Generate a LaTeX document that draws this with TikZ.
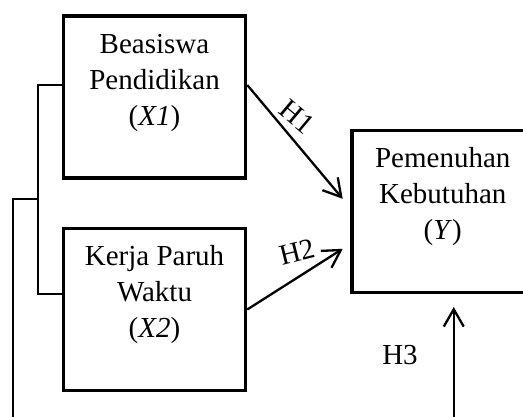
\documentclass[tikz,border=0pt]{standalone}
\usepackage{fontspec}
\setmainfont{Liberation Serif}
\usetikzlibrary{arrows.meta}
\newcommand{\isikotak}[1]{\parbox[c][162pt][t]{182pt}{\centering\rule{0pt}{37pt}#1}}

\begin{document}
\begin{tikzpicture}[x=1pt,y=-1pt]
% style des noeuds
\tikzstyle{variabel} = [rectangle, draw, line width=3.5pt, inner sep=0pt, font=\fontsize{29}{36}\selectfont]
\tikzstyle{etiket} = [inner sep=0pt, font=\fontsize{29}{36}\selectfont]
% style des flèches
\tikzstyle{panah} = [-{Straight Barb[angle=60:20pt]}, line width=2.3pt]
\tikzstyle{garis} = [line width=2pt]

\useasboundingbox (0,0) rectangle (523,416);
\clip (0,0) rectangle (523,416);

%% placement des noeuds
\node[variabel] (x1) at (154.5,97) {\isikotak{Beasiswa\\Pendidikan\\(\textit{X1})}};
\node[variabel] (x2) at (154.5,309.5) {\isikotak{Kerja Paruh\\Waktu\\(\textit{X2})}};
\node[variabel] (y) at (442.75,211.5) {\isikotak{Pemenuhan\\Kebutuhan\\(\textit{Y})}};
\node[etiket, rotate=-40] (h1) at (297,117) {H1};
\node[etiket, rotate=14] (h2) at (297.5,252) {H2};
\node[etiket] (h3) at (400,355) {H3};
\coordinate (titik) at (38,199);
%
%% placement des flèches
\draw[garis] ([yshift=12pt]x1.west) -| (titik) |- ([yshift=16pt]x2.west);
\draw[panah] ([yshift=12pt]x1.east) -- ([xshift=-7.3pt,yshift=12.7pt]y.west);
\draw[panah] (x2.east) -- ([xshift=-7.3pt,yshift=-37.3pt]y.west);
\draw[panah] (titik) -| (12.7,440) -| ([xshift=11pt,yshift=-12.75pt]y.south);
\end{tikzpicture}
\end{document}
